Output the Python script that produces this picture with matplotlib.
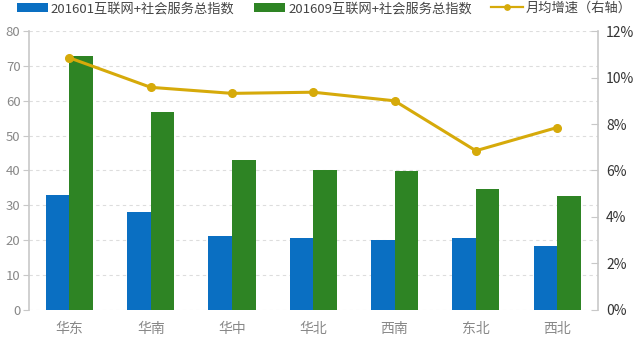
import matplotlib.pyplot as plt
import numpy as np

plt.rcParams['font.family'] = ['Noto Sans CJK SC', 'DejaVu Sans']

regions = ['华东', '华南', '华中', '华北', '西南', '东北', '西北']
idx_201601 = [33.0, 28.2, 21.2, 20.6, 20.1, 20.7, 18.3]
idx_201609 = [73.0, 56.8, 43.0, 40.0, 39.8, 34.8, 32.6]
growth = [10.85, 9.58, 9.32, 9.37, 9.0, 6.85, 7.85]   # 月均增速 %

fig = plt.figure(figsize=(6.4, 3.42), dpi=100)
ax = fig.add_axes([0.045, 0.094, 0.889, 0.815])
ax2 = ax.twinx()

pos = np.arange(len(regions))
width = 0.29
b1 = ax.bar(pos - width / 2, idx_201601, width, color='#0a6fc2', label='201601互联网+社会服务总指数', zorder=2)
b2 = ax.bar(pos + width / 2, idx_201609, width, color='#2e8424', label='201609互联网+社会服务总指数', zorder=2)
l1, = ax2.plot(pos, growth, color='#d6aa0a', lw=2.2, marker='o', ms=5.5, label='月均增速（右轴）')

ax.set_xlim(-0.5, len(regions) - 0.5)
ax.set_ylim(0, 80)
ax.set_yticks(range(0, 81, 10))
ax2.set_ylim(0, 12)
ax2.set_yticks(range(0, 13, 2))
ax2.set_yticklabels(['%d%%' % v for v in range(0, 13, 2)])

ax.set_xticks(pos)
ax.set_xticklabels(regions)
ax.grid(axis='y', ls=(0, (3, 3)), color='#dddddd', lw=0.8, zorder=0)
ax.set_axisbelow(True)

for a in (ax, ax2):
    a.spines['top'].set_visible(False)
    a.spines['bottom'].set_visible(False)
ax.spines['right'].set_visible(False)
ax2.spines['left'].set_visible(False)
ax.spines['left'].set_color('#c8c8c8')
ax2.spines['right'].set_color('#c8c8c8')
ax.spines['left'].set_linewidth(1.2)
ax2.spines['right'].set_linewidth(1.2)

ax.tick_params(axis='y', colors='#c8c8c8', labelcolor='#888888', labelsize=9.5, length=4, pad=2)
ax.tick_params(axis='x', length=0, labelcolor='#888888', labelsize=10, pad=9)
ax2.tick_params(axis='y', colors='#c8c8c8', labelcolor='#333333', labelsize=10, direction='in', length=5, pad=6)

leg = fig.legend(handles=[b1, b2, l1], loc='center left', bbox_to_anchor=(0.026, 0.975), ncol=3,
                 frameon=False, fontsize=9.5, handlelength=2.4, handleheight=0.7, handletextpad=0.2,
                 columnspacing=1.45, labelcolor='#444444', markerscale=0.7,
                 borderpad=0, borderaxespad=0)
for ln in leg.get_lines():
    ln.set_linewidth(1.6)

fig.savefig('out.png', dpi=100)
